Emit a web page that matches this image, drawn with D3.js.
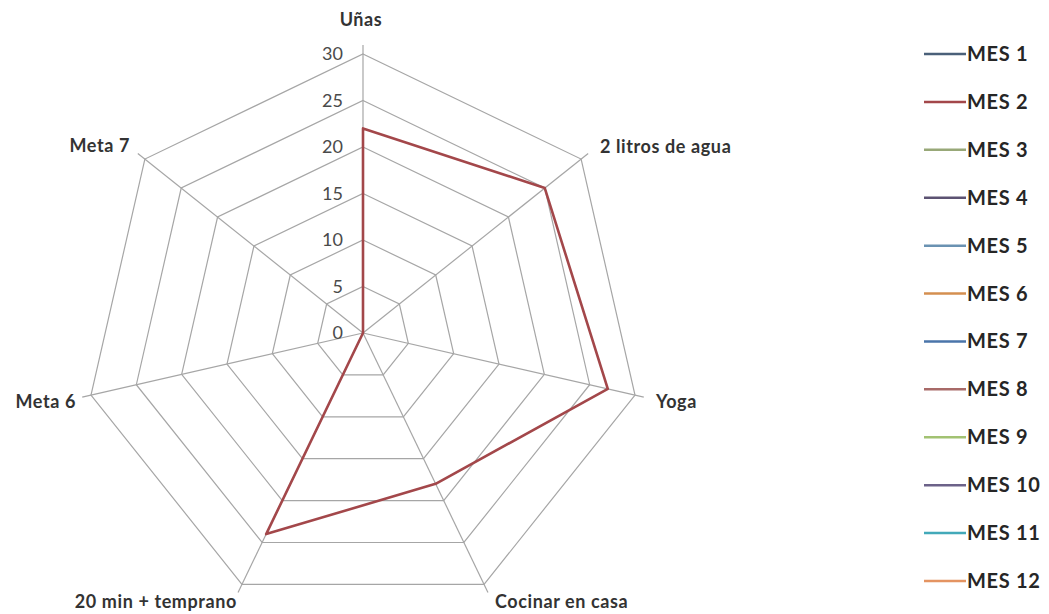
<!DOCTYPE html>
<html>
<head>
<meta charset="utf-8">
<script src="https://cdn.jsdelivr.net/npm/d3@7"></script>
<style>
  html, body { margin: 0; padding: 0; background: #fff; }
  svg { display: block; }
  text { font-family: Lato, "Open Sans", sans-serif; }
</style>
</head>
<body>
<svg id="chart" width="1049" height="614"></svg>
<script>
// ---- data ----
const axes = ["Uñas", "2 litros de agua", "Yoga", "Cocinar en casa", "20 min + temprano", "Meta 6", "Meta 7"];
const seriesNames = ["MES 1","MES 2","MES 3","MES 4","MES 5","MES 6","MES 7","MES 8","MES 9","MES 10","MES 11","MES 12"];
const seriesColors = ["#4a6079","#a3474a","#98a878","#5c5272","#6a92b2","#d48f50","#4a75aa","#a86a68","#a2c272","#6c6289","#42a9b9","#e49462"];
const mes2 = [22, 25, 27, 18, 24, 0, 0];
const tickValues = [0, 5, 10, 15, 20, 25, 30];

// ---- layout ----
const svg = d3.select("#chart");
const cx = 363, cy = 333, R = 279;
const r = d3.scaleLinear().domain([0, 30]).range([0, R]);
const ang = d3.scalePoint().domain(axes).range([0, 2 * Math.PI * 6 / 7]);
const pt = (a, v) => [cx + r(v) * Math.sin(ang(a)), cy - r(v) * Math.cos(ang(a))];

const g = svg.append("g");

// grid rings
const ringLine = d3.line();
tickValues.filter(t => t > 0).forEach(t => {
  g.append("path")
    .attr("d", ringLine(axes.map(a => pt(a, t))) + "Z")
    .attr("fill", "none")
    .attr("stroke", "#a6a6a6")
    .attr("stroke-width", 1.2);
});

// spokes (with small outer tick extension)
axes.forEach(a => {
  const ext = 9 / R * 30;
  const [x3, y3] = pt(a, 30 + ext);
  g.append("line")
    .attr("x1", cx).attr("y1", cy).attr("x2", x3).attr("y2", y3)
    .attr("stroke", "#a6a6a6").attr("stroke-width", 1.2);
});

// tick labels on first axis
g.selectAll("text.tick").data(tickValues).enter().append("text")
  .attr("class", "tick")
  .attr("x", cx - 20)
  .attr("y", d => cy - r(d) + 6)
  .attr("text-anchor", "end")
  .attr("font-size", 18)
  .attr("fill", "#4a4a4a")
  .text(d => d);

// axis labels
const labelPos = {
  "Uñas": {x: 361, y: 26, anchor: "middle"},
  "2 litros de agua": {x: 600, y: 153, anchor: "start"},
  "Yoga": {x: 656, y: 408, anchor: "start"},
  "Cocinar en casa": {x: 495, y: 608, anchor: "start"},
  "20 min + temprano": {x: 237, y: 608, anchor: "end"},
  "Meta 6": {x: 76, y: 408, anchor: "end"},
  "Meta 7": {x: 130, y: 152, anchor: "end"}
};
axes.forEach(a => {
  const p = labelPos[a];
  g.append("text")
    .attr("x", p.x).attr("y", p.y)
    .attr("text-anchor", p.anchor)
    .attr("font-size", 18)
    .attr("letter-spacing", 0.6)
    .attr("font-weight", "bold")
    .attr("fill", "#333")
    .text(a);
});

// series MES 2
g.append("path")
  .attr("d", d3.line()(axes.map((a, i) => pt(a, mes2[i]))) + "Z")
  .attr("fill", "none")
  .attr("stroke", seriesColors[1])
  .attr("stroke-width", 2.6)
  .attr("stroke-linejoin", "round");

// legend
const ly = d3.scaleLinear().domain([0, 11]).range([54, 581]);
const leg = svg.append("g");
seriesNames.forEach((n, i) => {
  leg.append("line")
    .attr("x1", 924).attr("x2", 966)
    .attr("y1", ly(i)).attr("y2", ly(i))
    .attr("stroke", seriesColors[i]).attr("stroke-width", 2.5);
  leg.append("text")
    .attr("x", 967).attr("y", ly(i) + 7)
    .attr("font-size", 20)
    .attr("letter-spacing", 0.7)
    .attr("font-weight", "bold")
    .attr("fill", "#262626")
    .text(n);
});
</script>
</body>
</html>
